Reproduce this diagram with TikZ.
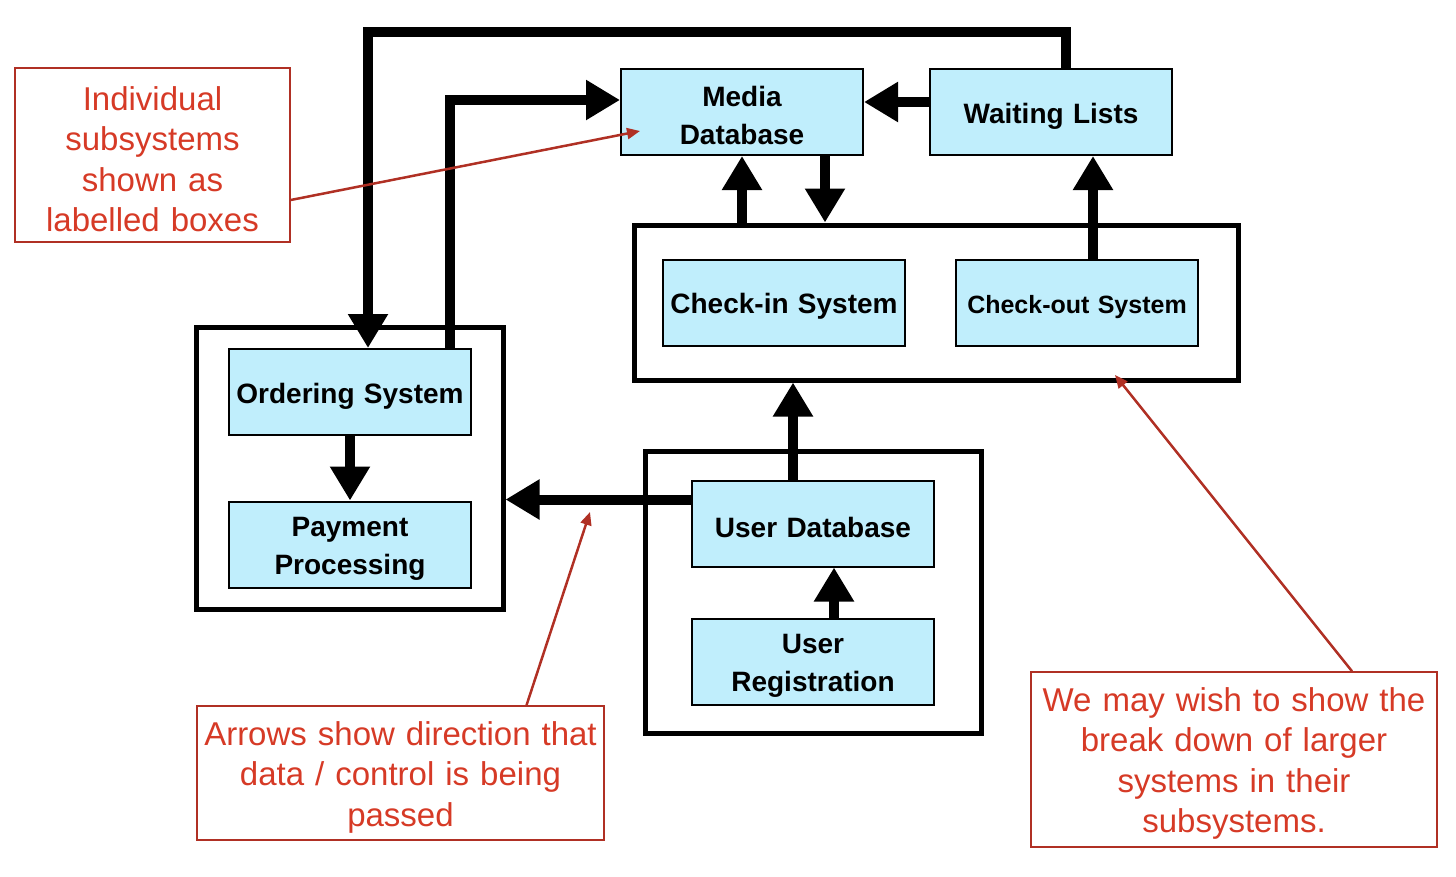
\documentclass[tikz,border=0pt]{standalone}
\usepackage{fontspec}
\setmainfont{Liberation Sans}
\usetikzlibrary{arrows.meta, positioning}
\definecolor{boxfill}{RGB}{192,238,252}
\definecolor{notered}{RGB}{214,58,38}
\definecolor{notedark}{RGB}{176,48,36}

\begin{document}
\begin{tikzpicture}[x=1pt, y=-1pt,
    sub/.style = {draw, line width=2pt, fill=boxfill,
        minimum width=242pt, minimum height=86pt, inner sep=0pt,
        text width=238pt, align=center,
        font=\bfseries\fontsize{28}{38}\selectfont,
        execute at begin node={\rule{0pt}{28pt}}},
    group/.style = {draw, line width=5pt, inner sep=0pt},
    note/.style = {draw=notedark, line width=1.5pt, text=notered,
        align=center, inner sep=0pt, font=\fontsize{33}{40.5}\selectfont,
        execute at begin node={\rule{0pt}{32pt}}},
    flow/.style = {line width=10pt, -{Triangle[length=34pt, width=38pt]}},
    pointer/.style = {draw=notedark, line width=2.5pt,
        -{Triangle[length=13pt, width=11pt]}}]
    \useasboundingbox (0,0) rectangle (1456,876);
    % \draw [help lines, step=100] (0,0) grid (1456,876);

    % larger systems
    \node (OrderGroup) [group, minimum width=307pt, minimum height=282pt] at (349.5,468) {};
    \node (CheckGroup) [group, minimum width=604pt, minimum height=155pt] at (936,302.5) {};
    \node (UserGroup) [group, minimum width=336pt, minimum height=282pt] at (813,592) {};

    % subsystems
    \node (Media) [sub] at (742,112) {Media\\Database};
    \node (Waiting) [sub] at (1051,112) {Waiting Lists};
    \node (CheckIn) [sub] at (784,302.5) {Check-in System};
    \node (CheckOut) [sub, font=\bfseries\fontsize{25}{30}\selectfont] at (1077,302.5) {Check-out System};
    \node (Ordering) [sub] at (350,392) {Ordering System};
    \node (Payment) [sub] at (350,544.5) {Payment\\Processing};
    \node (UserDB) [sub] at (813,523.5) {User Database};
    \node (UserReg) [sub] at (813,661.5) {User\\Registration};

    % notes
    \node (IndivNote) [note, minimum width=275pt, minimum height=174pt, text width=269pt] at (152.5,155)
        {Individual\\subsystems\\shown as\\labelled boxes};
    \node (ArrowNote) [note, minimum width=407pt, minimum height=134pt, text width=401pt] at (400.5,773)
        {Arrows show direction that\\data / control is being\\passed};
    \node (BreakNote) [note, minimum width=406pt, minimum height=175pt, text width=400pt] at (1234,759.5)
        {We may wish to show the\\break down of larger\\systems in their\\subsystems.};

    % data / control flow
    \coordinate (w1) at ([xshift=15pt]Waiting.north);
    \coordinate (o1) at ([xshift=18pt]Ordering.north);
    \coordinate (o2) at ([xshift=100pt]Ordering.north);
    \coordinate (m1) at ([yshift=12pt]Media.west);
    \coordinate (m2) at ([xshift=83pt]Media.south);
    \coordinate (w2) at ([yshift=10pt]Waiting.west);
    \coordinate (c1) at ([xshift=16pt]CheckOut.north);
    \coordinate (u1) at ([xshift=-20pt]UserDB.north);
    \coordinate (u2) at ([yshift=24pt]UserDB.west);
    \coordinate (r1) at ([xshift=21pt]UserReg.north);

    \draw [flow] (w1) -- ++(0,-36) -| (o1);
    \draw [flow] (o2) |- (m1);
    \draw [flow] (w2) -- (w2 -| Media.east);
    \draw [flow] (CheckGroup.north -| Media.south) -- (Media.south);
    \draw [flow] (m2) -- (m2 |- CheckGroup.north);
    \draw [flow] (c1) -- (c1 |- Waiting.south);
    \draw [flow] (u1) -- (u1 |- CheckGroup.south);
    \draw [flow] (Ordering.south) -- (Payment.north);
    \draw [flow] (u2) -- (u2 -| OrderGroup.east);
    \draw [flow] (r1) -- (r1 |- UserDB.south);

    % note pointers
    \coordinate (p1) at (640,131);
    \coordinate (p2) at (590,512);
    \coordinate (p3) at (1115,375);
    \draw [pointer] ([yshift=-45pt]IndivNote.east) -- (p1);
    \draw [pointer] ([xshift=126pt]ArrowNote.north) -- (p2);
    \draw [pointer] ([xshift=118pt]BreakNote.north) -- (p3);
\end{tikzpicture}
\end{document}
